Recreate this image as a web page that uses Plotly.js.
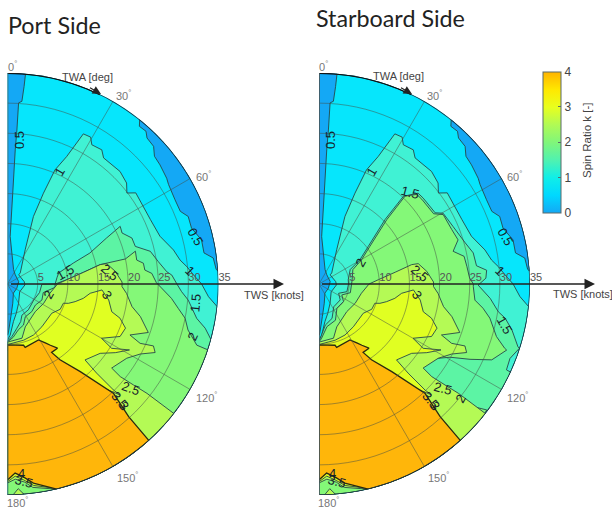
<!DOCTYPE html>
<html><head><meta charset="utf-8">
<script src="https://cdn.plot.ly/plotly-3.0.1.min.js"></script>
<style>html,body{margin:0;padding:0;background:#fff}#chart{width:612px;height:511px}</style>
</head><body><div id="chart"></div>
<script>
// Values: each contour region as [TWA deg, TWS knots]
const lowWedge = [[0,0],[0,35],[4.9,35],[4.8,32.9],[4.5,30.4],[3.5,30.1],[3.5,25.6],[3.3,22.3],[3.3,15.1],[3.2,7.9],[22.8,2.6],[40,2],[78,1.9],[115,1.7],[147,1.8],[164.6,3.3],[174,5.4],[179,8.1],[180,8.5],[180,0]];
const lowRim = [[38.8,35],[39.9,34.1],[42.2,34.2],[43.7,33.5],[46.7,33.3],[49,32.3],[52,32.1],[56.4,31.7],[58.3,31.4],[63.3,31.1],[67.2,31.1],[69.5,32],[73.1,31.9],[77.2,33],[81,33],[82.8,34.4],[86,34.7],[86.5,35],[85,35],[80,35],[75,35],[70,35],[65,35],[60,35],[55,35],[50,35],[45,35],[40,35]];
const above1 = [[50.7,2.4],[49,2.8],[27.3,6.4],[21,12],[21.6,16.2],[22.6,20.5],[24.9,23.3],[26.8,27.9],[29.5,28],[31.2,27],[35.1,27.2],[37.3,26.3],[45,26.4],[49.7,25.9],[52.7,24.9],[54.6,26.1],[65.7,26],[72.6,26.5],[78.4,28.1],[82.1,28.9],[84.5,29.9],[87.2,30.9],[90,32.2],[93.6,33.4],[96.2,35],[100,35],[105,35],[110,35],[115,35],[120,35],[125,35],[130,35],[135,35],[140,35],[145,35],[150,35],[155,35],[160,35],[165,35],[170,35],[175,35],[180,35],[180,9.3],[177,8.5],[171,6.3],[163.5,5.1],[150.3,3.7],[122.7,2.4],[93,2.9],[82,2.8]];
const portAbove15 = [[77.8,8.7],[72.3,11.5],[69.4,14.6],[65.1,18.1],[62.9,21],[66,20.8],[69.7,22],[73.6,22.1],[77.1,24.3],[81.6,25.3],[85.6,26.5],[86.9,27.3],[90,28.1],[92.5,28.9],[95.1,30.1],[100.3,31.9],[102.6,33.6],[105.3,35],[110,35],[115,35],[120,35],[125,35],[130,35],[135,35],[140,35],[145,35],[150,35],[155,35],[160,35],[165,35],[170,35],[175,35],[180,35],[180,9.5],[175,8.7],[168,7.5],[160.6,6.6],[155.2,5.7],[141,5.5],[121.6,5.1],[105,5.5],[90.5,5.7],[90,7.9],[82.3,8.3]];
const portAbove2 = [[85.8,9.9],[81.2,12.8],[78.2,15.7],[78,20],[75.6,21.9],[79.5,21.8],[81.3,22.8],[84.2,22.9],[85.8,24],[89.5,24.7],[95,27.3],[98.1,28.6],[100.9,30],[104.3,30.9],[107.9,33],[108.2,35],[110,35],[115,35],[120,35],[125,35],[130,35],[135,35],[140,35],[145,35],[150,35],[155,35],[160,35],[165,35],[170,35],[175,35],[180,35],[180,9.6],[174,8.9],[166.6,7.8],[158.7,7.3],[151.6,6.2],[138.7,6.1],[127,5.8],[115,6.3],[103.6,6.1],[94,7.9],[90,7.9]];
const starAbove15 = [[81.7,4.9],[65.2,5.7],[59.3,7.9],[52.6,10.3],[45.7,15.3],[43.9,20.2],[47.5,22.3],[50.5,22.4],[58.5,22.6],[60.3,23.7],[66.8,24.2],[74.3,25.2],[78.6,26.1],[83.4,26.3],[85.3,27.9],[88,27.7],[90.4,26.4],[94.8,28.5],[98.8,30.1],[100.4,31.4],[103.4,32.9],[107.5,34.6],[107.8,34.9],[111.3,34],[114.6,34.2],[114.7,35],[120,35],[125,35],[130,35],[135,35],[140,35],[145,35],[150,35],[155,35],[160,35],[165,35],[170,35],[175,35],[180,35],[180,9.5],[178.6,9],[171.3,6.9],[159.2,6.1],[147,4.5],[126.9,4.4],[115.3,3.6],[105.4,4.8],[90,4.9]];
const starAbove2 = [[85,5.5],[67,6.1],[60.4,8.1],[53.5,10.5],[46.5,15.5],[44.4,20.4],[47.5,22],[50.5,22.1],[58.5,22.3],[60.8,23.6],[67.7,23.8],[72.4,24.2],[76.3,22.9],[79.2,24.5],[83.2,24.7],[87.7,25],[90,25.6],[91,25.6],[95.9,26],[98.4,27.5],[101.3,28.9],[106.5,30.7],[109.1,32.6],[109.4,33],[113.7,31.3],[116.5,28],[119.2,24.9],[122.3,23.1],[129.4,22],[129.9,24],[128.4,29.2],[129.3,31.7],[126.9,34.8],[130,35],[135,35],[140,35],[145,35],[150,35],[155,35],[160,35],[165,35],[170,35],[175,35],[180,35],[180,9.6],[177.6,9.1],[169.4,7.2],[155.6,6.6],[143.5,5],[125.6,5],[115.6,4.2],[105.5,5.4],[90,5.4]];
const above25 = [[85.8,9.9],[81.2,12.8],[78.2,15.7],[78.4,16.8],[83.3,18],[89,19],[91.3,19],[94.5,19.8],[100.3,21],[103.8,22.7],[109,24.7],[112.6,22],[114.1,24.1],[113,26.3],[114.9,27],[117.8,24.9],[121.9,23.3],[128.9,22.2],[129.4,24.2],[128.7,26.8],[128.1,29.4],[127.9,35],[130,35],[135,35],[140,35],[145,35],[150,35],[155,35],[160,35],[165,35],[166.5,35],[172.9,34],[175,33],[177.7,32.4],[180,33],[180,9.7],[179,9.6],[165,9.3],[157.5,7.7],[135,6.5],[118.2,6.8],[102.3,7.2],[90,8.3]];
const bottomPeak = [[178.5,35],[177,34],[175.5,35]];
const above3 = [[93.6,15.7],[99,17],[104.9,17.9],[106.9,19.5],[110.5,20.9],[115,20.6],[120,18],[121.7,20.3],[118.4,23],[122.5,21.2],[126.8,19.2],[134.4,18],[135,20.9],[135,24.9],[134.6,26.2],[138,22.9],[160,14],[180,11],[180,10],[179,10],[164,9.7],[153,9.5],[141.2,9.1],[123.5,8.8],[115.6,9.7],[109,9.8],[107.6,10.6],[104.6,11.6],[100.7,12.8],[96.4,13.8]];
const above3Bottom = [[166,35],[172.6,33.7],[175.3,32.6],[177.7,31.9],[180,32.8],[180,30],[166,30]];
const above35 = [[180,10.1],[165.3,10.5],[164.4,10.9],[151,10.6],[147.3,11.6],[145,12.4],[142.1,13.5],[147.2,13.5],[145.3,15.3],[140.3,18.9],[135.9,25.3],[137.6,29.8],[137.9,35],[140,35],[145,35],[150,35],[155,35],[160,35],[165,35],[166.5,35],[172.6,33.3],[175.3,32.1],[177.7,31.4],[180,32.5]];

const bandColors = {low:'#14a8f5', mid:'#06e6fc', b1:'#40f2d4', b15:'#5cf4a4', b2:'#84f878', b25:'#b4fa55', b3:'#e0ff22', b35:'#ffb60a'};
const scaleStops = [[0,'#14a8f5'],[0.125,'#00d8ff'],[0.25,'#10eee8'],[0.375,'#50f2b0'],[0.5,'#80f67a'],[0.625,'#b0fa55'],[0.75,'#e8ff1e'],[0.875,'#ffe800'],[1,'#ffb400']];

const radialTicks = [5,10,15,20,25,30,35];
const angleTickText = ['0<sup>°</sup>','30<sup>°</sup>','60<sup>°</sup>','120<sup>°</sup>','150<sup>°</sup>','180<sup>°</sup>'];
const gridRings = [5,10,15,20,25,30];
const gridSpokes = [30,60,120,150];
const colorTicks = [0,1,2,3,4];

const portLabels = [['0.5',19,140,-90],['0.5',195,237,60],['1',59,172,-60],['1',190,270,45],['1.5',65,272,-30],['2.5',110,272,40],['3',107,294,60],['2',48,295,-60],['1.5',195,303,-85],['2',192,337,-65],['2.5',131,388,20],['3.5',120,400,50],['3',124,405,50],['4',21,473,0],['3.5',24,481,15]];
const starLabels = [['0.5',330,140,-90],['0.5',505,237,60],['1',371,172,-60],['1',500,270,45],['1.5',410,193,15],['2',360,263,-60],['2.5',420,273,40],['3',417,294,60],['2.5',443,388,15],['2',460,399,-60],['1.5',505,325,60],['3.5',431,400,50],['3',435,405,50],['4',332,473,0],['3.5',337,481,15]];
// centre of each angle label in the port panel, in page pixels
const angleLabelSpots = [[12,66],[123,95],[203,176],[206,397],[127,477],[17,502]];
const panelOffset = 311.5;

const W = 612, H = 511;
const fx = p => p / W, fy = p => 1 - p / H;
const FONT = 'Liberation Sans, Arial, sans-serif';

function region(pts, color, sub, lw, lc) {
  return {type:'scatterpolar', subplot:sub, mode:'lines', fill:'toself', fillcolor:color,
    theta:pts.map(p=>p[0]).concat(pts[0][0]), r:pts.map(p=>p[1]).concat(pts[0][1]),
    line:{color:lc||'#27484a', width:lw||0.9}, hoverinfo:'skip', showlegend:false};
}
function plain(theta, r, sub, color, width) {
  return {type:'scatterpolar', subplot:sub, mode:'lines', theta, r, line:{color, width}, hoverinfo:'skip', showlegend:false, connectgaps:false};
}
function frame(sub) {
  const out = [], ringT = [], ringR = [], spokeT = [], spokeR = [];
  gridRings.forEach(v => { for (let a=0;a<=180;a+=3){ringT.push(a);ringR.push(v);} ringT.push(null);ringR.push(null); });
  gridSpokes.forEach(a => { spokeT.push(a,a,null); spokeR.push(0,35,null); });
  out.push(plain(ringT, ringR, sub, 'rgba(70,80,70,0.5)', 1));
  out.push(plain(spokeT, spokeR, sub, 'rgba(70,80,70,0.5)', 1));
  const arcT=[], arcR=[], boldT=[], boldR=[];
  for (let a=0;a<=180;a+=2){arcT.push(a);arcR.push(35); if(a<=26){boldT.push(a);boldR.push(35);}}
  out.push(plain(arcT, arcR, sub, '#1c3040', 1.5));
  out.push(plain(boldT, boldR, sub, '#111111', 2));
  out.push(plain([0,180],[35,35], sub, '#4a5a60', 1.6));
  out.push({type:'scatterpolar', subplot:sub, mode:'text', r:radialTicks, theta:radialTicks.map(()=>90),
    text:radialTicks.map(String), textposition:'top right', textfont:{family:FONT,size:11,color:'#555'}, hoverinfo:'skip', showlegend:false, cliponaxis:false});
  return out;
}
function panel(sub, a15, a2) {
  return [
    region(lowWedge, bandColors.low, sub),
    region(lowRim, bandColors.low, sub),
    region(above1, bandColors.b1, sub),
    region(a15, bandColors.b15, sub),
    region(a2, bandColors.b2, sub),
    region(above25, bandColors.b25, sub),
    region(bottomPeak, bandColors.b25, sub),
    region(above3, bandColors.b3, sub),
    region(above3Bottom, bandColors.b3, sub),
    region(above35, bandColors.b35, sub, 1.3, '#2a2a10')
  ].concat(frame(sub));
}
const colorbarTrace = {type:'scatterpolar', subplot:'polar', mode:'markers', r:[0], theta:[0],
  marker:{size:1, opacity:0, color:[0], cmin:0, cmax:4, colorscale:scaleStops, showscale:true,
    colorbar:{x:fx(543.3), xanchor:'left', xref:'paper', y:fy(71.7), yanchor:'top', yref:'paper', len:141/H, lenmode:'fraction',
      thickness:18.4, xpad:0, ypad:0, outlinecolor:'#5a6a6a', outlinewidth:1,
      tickvals:colorTicks, ticktext:colorTicks.map(String), ticks:'inside', ticklen:3, tickcolor:'#5a6a6a',
      tickfont:{family:FONT,size:12,color:'#444'}}},
  hoverinfo:'skip', showlegend:false};

function polarAxes(x0, x1) {
  return {domain:{x:[fx(x0),fx(x1)], y:[1-495/H, 1-73/H]}, sector:[-90,90], bgcolor:bandColors.mid,
    radialaxis:{range:[0,35], visible:false, showgrid:false},
    angularaxis:{direction:'clockwise', rotation:90, visible:false}};
}
function textNote(text,x,y,size,color,angle,anchor,family) {
  return {text, x:fx(x), y:fy(y), xref:'paper', yref:'paper', showarrow:false, font:{family:family||FONT,size,color},
    textangle:angle||0, xanchor:anchor||'center', yanchor:'middle', borderpad:0, borderwidth:0};
}
function arrowNote(tipX,tipY,ax,ay,width) {
  return {x:fx(tipX), y:fy(tipY), xref:'paper', yref:'paper', text:' ', showarrow:true, ax, ay, axref:'pixel', ayref:'pixel',
    arrowhead:2, arrowsize:1.4, arrowwidth:width, arrowcolor:'#222', standoff:0};
}
const angleNotes = [];
angleLabelSpots.forEach((s,i) => {
  angleNotes.push(textNote(angleTickText[i], s[0], s[1], 11, '#777'));
  angleNotes.push(textNote(angleTickText[i], s[0]+panelOffset, s[1], 11, '#777'));
});
const notes = []
  .concat(portLabels.concat(starLabels).map(l => textNote(l[0],l[1],l[2],13,'#16222a',l[3])))
  .concat(angleNotes)
  .concat([
    textNote('Port Side',8,25,23.3,'#222',0,'left','Lato, sans-serif'),
    textNote('Starboard Side',316,18,23.3,'#222',0,'left','Lato, sans-serif'),
    textNote('TWA [deg]',87,77,11,'#444'), textNote('TWA [deg]',398,76,11,'#444'),
    textNote('TWS [knots]',274,295,11,'#444'), textNote('TWS [knots]',583,294,11,'#444'),
    textNote('Spin Ratio k [-]',587,141,11.5,'#444',-90),
    arrowNote(284,284,-276,0,1.5), arrowNote(595,284,-276,0,1.5),
    arrowNote(101,94,-14,-8,1.2), arrowNote(412,94,-14,-8,1.2)
  ]);

const traces = panel('polar', portAbove15, portAbove2).concat(panel('polar2', starAbove15, starAbove2)).concat([colorbarTrace]);
Plotly.newPlot('chart', traces, {
  width:W, height:H, margin:{l:0,r:0,t:0,b:0,autoexpand:false}, paper_bgcolor:'#fff', showlegend:false,
  polar:polarAxes(7.5,218.5), polar2:polarAxes(319,530), annotations:notes
}, {staticPlot:true, displayModeBar:false});
</script></body></html>
